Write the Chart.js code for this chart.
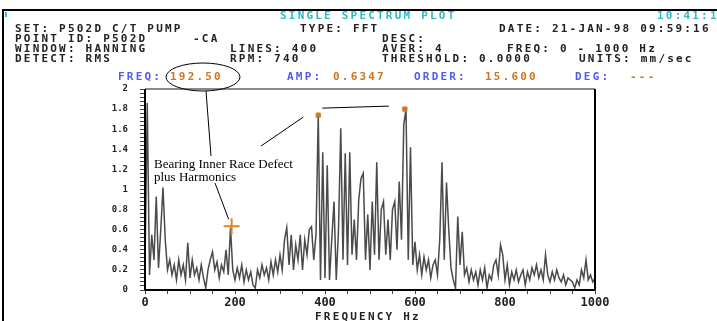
<!DOCTYPE html>
<html>
<head>
<meta charset="utf-8">
<script src="https://cdn.jsdelivr.net/npm/chart.js@4.4.1/dist/chart.umd.min.js"></script>
<style>
html, body { margin: 0; padding: 0; background: #fff; }
#wrap { position: relative; width: 717px; height: 321px; overflow: hidden; }
#myChart { position: absolute; left: 0; top: 0; }
.t { position: absolute; font-family: "DejaVu Sans Mono", monospace; font-weight: bold; font-size: 11px;
     letter-spacing: 2.2px; line-height: 11px; white-space: pre; color: #222; }
.cy { color: #2cbcc4; }
.bl { color: #4f5cf0; }
.or { color: #cc7620; }
.note { position: absolute; left: 154px; top: 157px; font-family: "Liberation Serif", serif; font-size: 13px;
        line-height: 13px; color: #000; white-space: pre; }
</style>
</head>
<body>
<div id="wrap">
<canvas id="myChart" width="717" height="321"></canvas>

<div class="t cy" style="left:280px;top:10px">SINGLE SPECTRUM PLOT</div>
<div class="t cy" style="left:657px;top:10px">10:41:16</div>

<div class="t" style="left:15px;top:23px">SET: P502D C/T PUMP</div>
<div class="t" style="left:300px;top:23px">TYPE: FFT</div>
<div class="t" style="left:499px;top:23px">DATE: 21-JAN-98 09:59:16</div>

<div class="t" style="left:15px;top:33px">POINT ID: P502D</div>
<div class="t" style="left:193px;top:33px">-CA</div>
<div class="t" style="left:382px;top:33px">DESC:</div>

<div class="t" style="left:15px;top:43px">WINDOW: HANNING</div>
<div class="t" style="left:230px;top:43px">LINES: 400</div>
<div class="t" style="left:382px;top:43px">AVER: 4</div>
<div class="t" style="left:507px;top:43px">FREQ: 0 - 1000 Hz</div>

<div class="t" style="left:15px;top:53px">DETECT: RMS</div>
<div class="t" style="left:230px;top:53px">RPM: 740</div>
<div class="t" style="left:382px;top:53px">THRESHOLD: 0.0000</div>
<div class="t" style="left:579px;top:53px">UNITS: mm/sec</div>

<div class="t bl" style="left:118px;top:71px">FREQ:</div>
<div class="t or" style="left:170px;top:71px">192.50</div>
<div class="t bl" style="left:287px;top:71px">AMP:</div>
<div class="t or" style="left:333px;top:71px">0.6347</div>
<div class="t bl" style="left:414px;top:71px">ORDER:</div>
<div class="t or" style="left:485px;top:71px">15.600</div>
<div class="t bl" style="left:575px;top:71px">DEG:</div>
<div class="t or" style="left:630px;top:71px">---</div>

<div class="t" style="left:315px;top:311px">FREQUENCY Hz</div>

<div class="note">Bearing Inner Race Defect<br>plus Harmonics</div>
</div>

<script>
// spectrum, one value every 5 Hz from 0 to 1000 Hz (mm/sec)
const stepHz = 5;
const amplitude = [
    0.25, 1.86, 0.15, 0.55, 0.3, 0.93, 0.22, 0.6, 1.02, 0.5,
    0.2, 0.3, 0.15, 0.25, 0.1, 0.3, 0.15, 0.25, 0.1, 0.47,
    0.12, 0.3, 0.15, 0.22, 0.1, 0.25, 0.12, 0.02, 0.2, 0.3,
    0.38, 0.2, 0.28, 0.12, 0.25, 0.18, 0.4, 0.15, 0.62, 0.2,
    0.1, 0.22, 0.12, 0.25, 0.08, 0.2, 0.1, 0.18, 0.05, 0.02,
    0.2, 0.12, 0.25, 0.15, 0.22, 0.1, 0.28, 0.15, 0.3, 0.18,
    0.35, 0.2, 0.5, 0.62, 0.25, 0.55, 0.2, 0.45, 0.3, 0.55,
    0.2, 0.5, 0.35, 0.6, 0.63, 0.3, 0.55, 1.74, 0.1, 1.37,
    0.12, 1.24, 0.1, 0.5, 0.88, 0.1, 0.6, 1.61, 0.3, 1.36,
    0.25, 1.37, 0.35, 0.7, 0.3, 0.9, 1.11, 1.16, 0.3, 0.75,
    0.2, 0.88, 0.35, 1.27, 0.3, 0.8, 0.88, 0.35, 0.7, 0.3,
    0.8, 0.88, 0.4, 1.08, 0.5, 1.64, 1.80, 0.3, 1.42, 0.25,
    0.48, 0.2, 0.35, 0.15, 0.33, 0.2, 0.3, 0.12, 0.25, 0.3,
    0.15, 0.5, 1.27, 0.3, 1.07, 0.6, 0.22, 0.1, 0.02, 0.73,
    0.25, 0.58, 0.15, 0.22, 0.08, 0.2, 0.1, 0.18, 0.05, 0.2,
    0.1, 0.22, 0.02, 0.15, 0.1, 0.25, 0.3, 0.15, 0.45, 0.35,
    0.1, 0.25, 0.05, 0.18, 0.1, 0.2, 0.08, 0.15, 0.2, 0.05,
    0.18, 0.1, 0.22, 0.15, 0.25, 0.12, 0.2, 0.1, 0.35, 0.15,
    0.08, 0.18, 0.1, 0.2, 0.12, 0.08, 0.15, 0.05, 0.12, 0.1,
    0.08, 0.02, 0.1, 0.05, 0.2, 0.12, 0.3, 0.1, 0.15, 0.08,
    0.12
];
const peakFreqs = [385, 577.5];
const peakAmps = [1.74, 1.80];
const cursorFreq = [192.5];
const cursorAmp = [0.6347];
const freqMax = 1000;
const ampMax = 2;

const spectrumPoints = amplitude.map((a, i) => ({ x: i * stepHz, y: a }));
const peakPoints = peakFreqs.map((f, i) => ({ x: f, y: peakAmps[i] }));
const cursorPoints = cursorFreq.map((f, i) => ({ x: f, y: cursorAmp[i] }));

const monoBold = (size) => ({ family: 'DejaVu Sans Mono', size: size, weight: 'bold' });

const overlay = {
    id: 'overlay',
    afterDraw(chart) {
        const ctx = chart.ctx;
        const a = chart.chartArea;
        const xs = chart.scales.x;
        const ys = chart.scales.y;
        ctx.save();
        // outer screen frame
        ctx.strokeStyle = '#000';
        ctx.lineWidth = 2;
        ctx.beginPath();
        ctx.moveTo(2, 10); ctx.lineTo(717, 10);
        ctx.moveTo(3, 9); ctx.lineTo(3, 321);
        ctx.stroke();
        ctx.fillStyle = '#2cbcc4';
        ctx.fillRect(5, 12, 2, 5);

        // plot frame
        ctx.strokeStyle = '#8a8a8a';
        ctx.beginPath();
        ctx.moveTo(a.left, a.top); ctx.lineTo(a.right, a.top);
        ctx.stroke();
        ctx.strokeStyle = '#000';
        ctx.beginPath();
        ctx.moveTo(a.right, a.top); ctx.lineTo(a.right, a.bottom);
        ctx.moveTo(a.left, a.top); ctx.lineTo(a.left, a.bottom);
        ctx.moveTo(a.left, a.bottom); ctx.lineTo(a.right, a.bottom);
        ctx.stroke();

        // callouts
        const cx = xs.getPixelForValue(cursorFreq[0]);
        const cy = ys.getPixelForValue(cursorAmp[0]);
        const p1x = xs.getPixelForValue(peakFreqs[0]);
        const p1y = ys.getPixelForValue(peakAmps[0]);
        const p2x = xs.getPixelForValue(peakFreqs[1]);
        const p2y = ys.getPixelForValue(peakAmps[1]);
        ctx.lineWidth = 1;
        ctx.beginPath();
        ctx.ellipse(203, 77, 37, 14, 0, 0, Math.PI * 2);
        ctx.moveTo(206, 91); ctx.lineTo(211, 156);
        ctx.moveTo(215, 183); ctx.lineTo(cx - 3, cy - 7);
        ctx.moveTo(261, 146); ctx.lineTo(p1x - 15, p1y + 2);
        ctx.moveTo(p1x + 4, p1y - 7); ctx.lineTo(p2x - 16, p2y - 3);
        ctx.stroke();
        ctx.restore();
    }
};

new Chart(document.getElementById('myChart'), {
    type: 'line',
    data: {
        datasets: [
            {
                data: cursorPoints,
                showLine: false,
                pointStyle: 'cross',
                pointRadius: 8,
                borderWidth: 2,
                borderColor: '#e08428',
                order: 0
            },
            {
                data: peakPoints,
                showLine: false,
                pointStyle: 'rect',
                pointRadius: 3,
                backgroundColor: '#d07a20',
                borderColor: '#d07a20',
                order: 0
            },
            {
                data: spectrumPoints,
                borderColor: '#4a4a4a',
                borderWidth: 1.5,
                pointRadius: 0,
                tension: 0,
                fill: false,
                order: 2
            }
        ]
    },
    options: {
        responsive: false,
        animation: false,
        events: [],
        layout: { padding: { left: 100, right: 122, top: 89, bottom: 0 } },
        plugins: { legend: { display: false }, tooltip: { enabled: false } },
        scales: {
            x: {
                type: 'linear',
                min: 0,
                max: freqMax,
                afterFit: (scale) => { scale.height = 31; },
                border: { display: false },
                grid: { drawOnChartArea: false, tickLength: 4, tickColor: '#444' },
                ticks: {
                    stepSize: 50,
                    autoSkip: false,
                    maxRotation: 0,
                    minRotation: 0,
                    padding: 2,
                    color: '#222',
                    font: monoBold(12),
                    callback: (v) => (v % 200 === 0 ? String(v) : '')
                }
            },
            y: {
                min: 0,
                max: ampMax,
                afterFit: (scale) => { scale.width = 45; },
                border: { display: false },
                grid: { drawOnChartArea: false, tickLength: 5, tickColor: '#444' },
                ticks: {
                    stepSize: 0.04,
                    autoSkip: false,
                    padding: 12,
                    color: '#222',
                    font: monoBold(9),
                    callback: (v) => {
                        if (Math.abs(v * 5 - Math.round(v * 5)) > 1e-6) return '';
                        return Number.isInteger(Math.round(v * 10) / 10) ? String(Math.round(v)) : v.toFixed(1);
                    }
                }
            }
        }
    },
    plugins: [overlay]
});
</script>
</body>
</html>
